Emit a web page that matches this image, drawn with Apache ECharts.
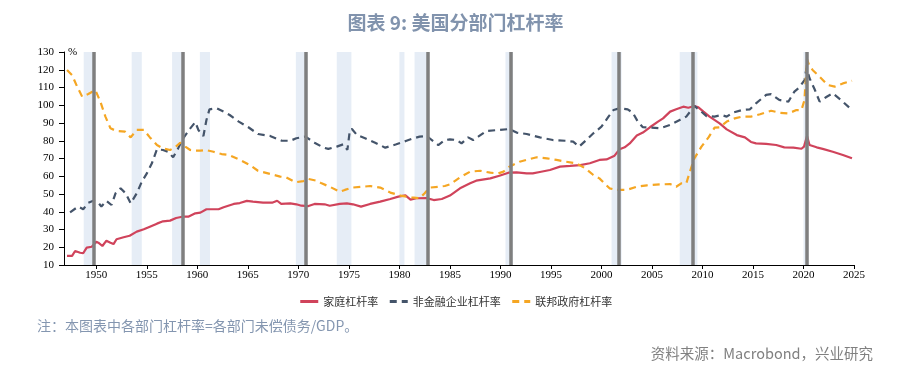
<!DOCTYPE html>
<html><head><meta charset="utf-8">
<script src="https://cdn.jsdelivr.net/npm/echarts@6/dist/echarts.min.js"></script>
<style>html,body{margin:0;padding:0;background:#fff}#c{width:911px;height:369px}</style>
</head><body><div id="c"></div>
<script>
const titleText = '图表 9: 美国分部门杠杆率';
const noteText = '注：本图表中各部门杠杆率=各部门未偿债务/GDP。';
const sourceText = '资料来源：Macrobond，兴业研究';
const seriesNames = ['家庭杠杆率', '非金融企业杠杆率', '联邦政府杠杆率'];
const xTickYears = [1950,1955,1960,1965,1970,1975,1980,1985,1990,1995,2000,2005,2010,2015,2020,2025];

const hhYears = [1947.1,1947.6,1947.9,1948.4,1948.7,1949.05,1949.55,1949.7,1950.0,1950.2,1950.6,1951.0,1951.4,1951.7,1952.0,1952.7,1953.3,1954.0,1954.7,1955.3,1956.0,1956.6,1957.3,1957.9,1958.5,1959.1,1959.8,1960.3,1960.9,1962.1,1962.6,1963.6,1964.2,1964.9,1965.5,1966.5,1967.4,1967.9,1968.3,1969.2,1969.8,1970.3,1971.0,1971.6,1972.6,1973.1,1974.1,1974.8,1975.4,1976.2,1977.1,1978.1,1979.1,1979.9,1980.6,1981.1,1981.7,1982.7,1983.4,1984.2,1985.0,1986.0,1987.0,1987.6,1989.0,1989.9,1990.8,1991.6,1992.6,1993.2,1993.9,1994.9,1995.9,1996.9,1997.9,1998.85,1999.8,2000.5,2001.3,2001.8,2002.3,2002.8,2003.5,2004.1,2004.8,2005.6,2006.1,2006.8,2007.4,2008.1,2008.6,2009.2,2009.6,2010.1,2010.7,2011.7,2012.4,2013.4,2014.2,2014.8,2015.3,2016.3,2017.3,2018.1,2019.0,2019.8,2020.05,2020.35,2020.6,2021.3,2021.9,2022.9,2023.9,2024.8];
const hhVals = [15.1,15.1,17.9,16.9,16.6,19.8,20.3,20.7,23.1,22.6,20.7,23.7,22.6,21.8,24.5,25.6,26.5,28.8,30.1,31.6,33.3,34.6,35.0,36.5,37.2,37.2,39.1,39.5,41.4,41.4,42.5,44.4,44.9,46.1,45.7,45.1,45.1,46.2,44.4,44.7,44.2,43.4,43.2,44.4,44.2,43.4,44.4,44.7,44.2,42.9,44.4,45.7,47.2,48.5,49.2,46.8,47.6,47.7,46.6,47.2,49.1,53.2,56.0,57.5,58.8,60.3,62.0,62.2,61.6,61.6,62.4,63.5,65.4,65.8,66.3,67.3,69.2,69.5,71.6,75.2,76.3,78.5,82.9,84.6,87.6,90.8,92.6,96.4,97.7,99.2,98.6,99.6,98.8,96.4,93.6,89.8,86.4,83.2,81.9,79.3,78.5,78.2,77.6,76.3,76.1,75.5,76.7,82.7,77.6,76.3,75.4,73.8,72.0,70.1];

const corpYears = [1947.4,1948.2,1948.7,1949.2,1949.7,1950.2,1950.5,1951.0,1951.5,1951.9,1952.4,1952.9,1953.4,1954.0,1954.5,1955.0,1955.5,1956.0,1956.6,1957.1,1957.6,1958.1,1958.6,1959.3,1959.8,1960.1,1960.6,1960.9,1961.2,1961.9,1962.6,1963.2,1964.1,1965.05,1966.0,1967.2,1968.35,1969.2,1969.8,1970.7,1971.6,1972.5,1972.96,1973.8,1974.45,1974.85,1975.1,1975.3,1975.8,1976.6,1977.6,1978.6,1979.7,1980.7,1981.4,1982.0,1982.7,1983.4,1983.85,1984.5,1985.0,1985.7,1986.15,1986.8,1987.3,1987.8,1988.6,1989.9,1990.9,1991.6,1992.6,1993.9,1995.2,1996.4,1997.2,1997.8,1998.5,1999.2,2000.0,2000.7,2001.2,2001.8,2002.6,2003.1,2003.6,2004.1,2004.8,2005.8,2006.8,2007.75,2008.4,2009.2,2009.7,2010.4,2011.2,2011.9,2012.4,2013.0,2013.9,2014.7,2015.3,2016.3,2016.8,2017.6,2018.5,2019.1,2019.6,2020.1,2020.3,2020.6,2021.1,2021.6,2022.3,2022.9,2023.7,2024.8];
const corpVals = [39.7,42.9,41.4,45.1,46.2,45.1,42.9,46.1,43.8,50.4,53.2,50.4,44.7,50.4,56.9,61.6,67.3,75.2,74.8,73.8,70.7,75.7,81.4,87.0,90.5,86.1,82.7,91.7,97.7,98.3,96.4,94.5,90.8,87.6,83.8,82.7,80.0,80.0,81.4,82.3,78.9,76.1,75.4,76.7,78.0,74.8,86.1,86.6,83.2,81.4,78.9,76.1,78.0,80.0,81.4,82.3,82.7,79.5,77.6,80.4,80.8,80.4,78.5,81.9,80.4,82.3,85.5,86.1,86.6,84.6,83.8,81.9,80.4,80.0,79.5,76.7,80.4,84.2,87.9,93.6,97.3,98.3,97.7,95.8,90.8,87.6,87.4,87.0,88.9,91.7,93.6,99.6,97.3,93.9,93.6,94.5,93.6,95.8,97.3,97.7,101.1,105.8,106.3,103.0,102.0,107.7,110.1,114.2,121.0,115.2,109.0,102.0,104.8,106.7,103.0,97.3];

const fedYears = [1947.1,1947.6,1948.1,1948.6,1949.2,1949.9,1950.4,1950.9,1951.4,1952.0,1952.85,1953.4,1954.0,1954.7,1955.3,1956.0,1956.6,1957.3,1957.8,1958.3,1958.8,1959.3,1959.8,1960.3,1960.8,1961.6,1962.4,1963.1,1964.1,1965.2,1966.0,1967.2,1968.2,1968.8,1969.7,1970.5,1971.0,1971.8,1972.3,1973.1,1974.1,1974.6,1975.3,1976.4,1977.1,1978.1,1979.1,1980.1,1980.7,1981.2,1982.0,1982.5,1983.0,1983.85,1984.5,1985.0,1986.0,1987.0,1988.0,1989.0,1989.8,1990.3,1990.9,1991.9,1992.9,1993.6,1994.6,1995.55,1996.5,1997.5,1998.4,1999.2,1999.8,2000.3,2000.8,2001.5,2002.5,2003.5,2004.5,2005.8,2006.8,2007.4,2007.9,2008.4,2008.7,2009.2,2009.9,2010.6,2011.2,2011.7,2012.4,2013.2,2013.9,2014.8,2015.7,2016.8,2017.6,2018.5,2019.3,2019.8,2020.1,2020.35,2020.55,2020.9,2021.6,2022.4,2023.1,2023.9,2024.8];
const fedVals = [119.9,117.0,110.5,104.8,106.3,108.6,102.0,93.6,87.0,85.5,85.1,81.9,86.1,86.1,81.9,77.6,75.7,74.8,76.3,78.9,76.7,74.8,74.4,74.4,74.8,73.8,72.5,72.0,69.5,66.3,63.1,61.3,59.8,59.4,56.6,57.3,58.5,57.5,56.0,54.1,51.3,52.3,53.6,54.1,54.5,53.6,50.8,49.1,48.5,48.1,47.6,50.4,53.6,54.1,54.5,55.4,59.4,62.6,63.1,62.0,61.6,62.6,65.4,68.2,69.7,70.7,70.1,69.2,68.2,67.3,64.5,60.7,58.8,56.0,53.2,52.3,52.3,54.1,54.9,55.4,55.6,54.1,56.0,56.0,61.6,70.1,76.7,81.9,87.4,87.6,90.8,92.6,93.6,93.6,94.9,96.9,95.8,95.4,97.3,97.3,103.0,126.0,122.7,119.9,116.1,111.4,110.5,112.3,113.8];

const recessionStarts = [1948.75,1953.5,1957.5,1960.25,1969.75,1973.8,1980.0,1981.5,1990.5,2001.0,2007.75,2020.0];
const recessionEnds   = [1949.75,1954.5,1958.5,1961.25,1970.9,1975.25,1980.5,1982.9,1991.25,2002.0,2009.5,2020.5];
const markerYears = [1949.72,1958.52,1970.76,1982.76,1991.0,2001.75,2009.0,2020.28];

const zip = (xs, ys) => xs.map((x, i) => [x, ys[i]]);
const serifFont = '"Liberation Serif", "DejaVu Serif", serif';
const cjkFont = '"Noto Sans CJK SC", sans-serif';

const chart = echarts.init(document.getElementById('c'), null, {renderer: 'canvas'});
chart.setOption({
  animation: false,
  backgroundColor: '#ffffff',
  title: {
    text: titleText, left: 'center', top: 8,
    textStyle: {fontFamily: cjkFont, fontSize: 19, fontWeight: 'bold', color: '#8193ad'}
  },
  graphic: [
    {type: 'text', left: 37, top: 319, style: {text: noteText, font: '14px "Noto Sans CJK SC"', fill: '#8496b0'}},
    {type: 'text', right: 38, top: 346, style: {text: sourceText, font: '14.5px "Noto Sans CJK SC"', fill: '#808080'}}
  ],
  legend: {
    top: 291, left: 'center', itemWidth: 18, itemHeight: 8, itemGap: 10,
    itemStyle: {opacity: 0},
    lineStyle: {width: 3},
    textStyle: {fontFamily: cjkFont, fontSize: 11, color: '#333'},
    data: seriesNames
  },
  grid: {left: 64, right: 57, top: 52, bottom: 104, containLabel: false},
  xAxis: {
    type: 'value', min: 1946.8, max: 2025,
    splitLine: {show: false},
    axisLine: {lineStyle: {color: '#000', width: 1}},
    axisTick: {show: true, length: 4, customValues: xTickYears, lineStyle: {color: '#000'}},
    axisLabel: {customValues: xTickYears, margin: 5, fontFamily: serifFont, fontSize: 11, color: '#000', formatter: v => String(v)}
  },
  yAxis: {
    type: 'value', min: 10, max: 130, interval: 10,
    name: '%', nameLocation: 'end', nameGap: 0,
    nameTextStyle: {fontFamily: serifFont, fontSize: 11, color: '#000', align: 'left', verticalAlign: 'middle', padding: [0, 0, 4, 4]},
    splitLine: {show: false},
    axisLine: {show: true, lineStyle: {color: '#000', width: 1}},
    axisTick: {show: true, length: 5, lineStyle: {color: '#000'}},
    axisLabel: {margin: 10, fontFamily: serifFont, fontSize: 11, color: '#000'}
  },
  series: [
    {
      name: 'bg', type: 'line', data: [], z: 1, silent: true,
      markArea: {
        silent: true,
        itemStyle: {color: '#e6edf6'},
        data: recessionStarts.map((s, i) => [{xAxis: s}, {xAxis: recessionEnds[i]}])
      },
      markLine: {
        silent: true, symbol: 'none', label: {show: false},
        lineStyle: {color: '#7f7f7f', width: 3.5, type: 'solid'},
        data: markerYears.map(y => ({xAxis: y}))
      }
    },
    {
      name: seriesNames[0], type: 'line', z: 3, symbol: 'none', smooth: false,
      data: zip(hhYears, hhVals),
      lineStyle: {color: '#d0435b', width: 2.2},
      itemStyle: {color: '#d0435b'}
    },
    {
      name: seriesNames[1], type: 'line', z: 3, symbol: 'none',
      data: zip(corpYears, corpVals),
      lineStyle: {color: '#44546a', width: 2.2, type: [7, 5]},
      itemStyle: {color: '#44546a'}
    },
    {
      name: seriesNames[2], type: 'line', z: 3, symbol: 'none',
      data: zip(fedYears, fedVals),
      lineStyle: {color: '#f5a623', width: 2.2, type: [7, 5]},
      itemStyle: {color: '#f5a623'}
    }
  ]
});
</script></body></html>
